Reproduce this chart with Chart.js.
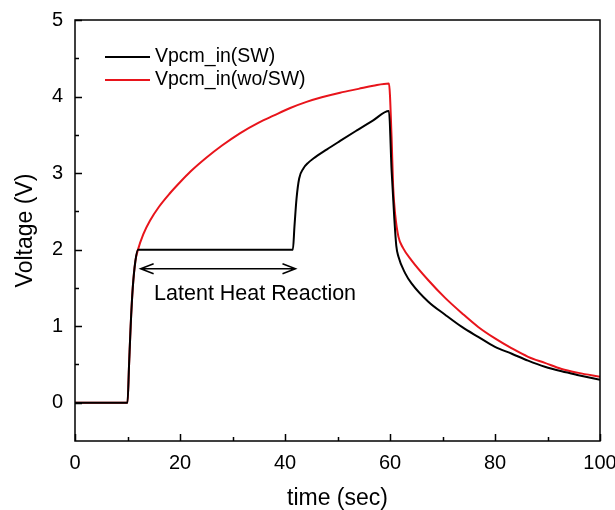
<!DOCTYPE html>
<html><head><meta charset="utf-8">
<script src="https://cdn.jsdelivr.net/npm/chart.js@4"></script>
<style>html,body{margin:0;padding:0;background:#fff}canvas{display:block}</style>
</head><body>
<canvas id="c" width="615" height="510"></canvas>
<script>
// ---- data ----
const timeWoSW = [0,10,10.3,10.6,11,11.5,12,13,14.3,16,18,20,22,25,28,31.4,35,37.8,41,44.1,47,50.5,54,56.8,59.8,60.3,60.6,61.0,61.6,62.5,64.1,67.3,70.5,73.7,76.8,80,83.2,86.3,89.5,92.7,95.9,100];
const voltWoSW = [0,0,0.5,1.0,1.5,1.85,2.0,2.2,2.38,2.56,2.73,2.88,3.02,3.2,3.36,3.52,3.66,3.75,3.85,3.93,3.99,4.05,4.10,4.14,4.17,3.47,2.82,2.45,2.17,2.02,1.86,1.60,1.37,1.17,0.99,0.84,0.71,0.60,0.52,0.44,0.39,0.34];
const timeSW = [0,10,10.3,10.6,11,11.5,12,41.5,41.8,42.2,42.7,43.5,44.5,45.4,48,50.5,53.5,56.8,59.8,60.3,60.8,61.2,61.6,62.9,64.1,67.3,70.5,73.7,76.8,80,83.2,86.3,89.5,92.7,95.9,100];
const voltSW = [0,0,0.5,1.0,1.5,1.85,2.0,2.0,2.3,2.67,2.93,3.06,3.14,3.19,3.31,3.42,3.55,3.69,3.81,3.04,2.43,2.05,1.91,1.69,1.56,1.32,1.15,0.99,0.86,0.73,0.64,0.55,0.47,0.41,0.36,0.30];
const seriesNames = ['Vpcm_in(SW)','Vpcm_in(wo/SW)'];
const xTicks = [0,20,40,60,80,100];
const xMinor = [10,30,50,70,90];
const yTicks = [0,1,2,3,4,5];
const yMinor = [0.5,1.5,2.5,3.5,4.5];
const annotText = 'Latent Heat Reaction';
const annotArrow = [12.5, 42, 1.75];
const annotTextPos = [34.3, 1.42];

const FONT = "'Liberation Sans', Arial, sans-serif";
const pts = (xs, ys) => xs.map((x,i)=>({x, y: ys[i]}));

const extras = {
  id: 'extras',
  afterDraw(chart) {
    const {ctx, chartArea: a, scales: {x, y}} = chart;
    ctx.save();
    ctx.strokeStyle = '#000'; ctx.lineWidth = 1.5;
    ctx.strokeRect(a.left, a.top, a.right - a.left, a.bottom - a.top);
    ctx.beginPath();
    xTicks.forEach(v => { const p = Math.round(x.getPixelForValue(v)) + 0.5; ctx.moveTo(p, a.bottom); ctx.lineTo(p, a.bottom - 7); });
    xMinor.forEach(v => { const p = Math.round(x.getPixelForValue(v)) + 0.5; ctx.moveTo(p, a.bottom); ctx.lineTo(p, a.bottom - 4); });
    yTicks.forEach(v => { const p = Math.round(y.getPixelForValue(v)) + 0.5; ctx.moveTo(a.left, p); ctx.lineTo(a.left + 7, p); });
    yMinor.forEach(v => { const p = Math.round(y.getPixelForValue(v)) + 0.5; ctx.moveTo(a.left, p); ctx.lineTo(a.left + 4, p); });
    ctx.stroke();
    // legend
    const colors = ['#000000', '#e8141b'];
    ctx.font = '19.5px ' + FONT; ctx.textBaseline = 'middle'; ctx.fillStyle = '#000';
    seriesNames.forEach((n, i) => {
      const yy = 57 + i * 23;
      ctx.strokeStyle = colors[i]; ctx.lineWidth = 2;
      ctx.beginPath(); ctx.moveTo(105, yy); ctx.lineTo(150, yy); ctx.stroke();
      ctx.fillText(n, 155, yy);
    });
    // annotation
    const x1 = x.getPixelForValue(annotArrow[0]), x2 = x.getPixelForValue(annotArrow[1]), ay = y.getPixelForValue(annotArrow[2]);
    ctx.strokeStyle = '#000'; ctx.lineWidth = 1.5;
    ctx.beginPath();
    ctx.moveTo(x1, ay); ctx.lineTo(x2, ay);
    ctx.moveTo(x1 + 13, ay - 5); ctx.lineTo(x1, ay); ctx.lineTo(x1 + 13, ay + 5);
    ctx.moveTo(x2 - 13, ay - 5); ctx.lineTo(x2, ay); ctx.lineTo(x2 - 13, ay + 5);
    ctx.stroke();
    ctx.textAlign = 'center';
    ctx.font = '21.5px ' + FONT;
    ctx.fillText(annotText, x.getPixelForValue(annotTextPos[0]), y.getPixelForValue(annotTextPos[1]));
    ctx.restore();
  }
};

new Chart(document.getElementById('c'), {
  type: 'line',
  data: {
    datasets: [
      { label: seriesNames[0], data: pts(timeSW, voltSW), borderColor: '#000000', borderWidth: 2, pointRadius: 0, cubicInterpolationMode: 'monotone', fill: false },
      { label: seriesNames[1], data: pts(timeWoSW, voltWoSW), borderColor: '#e8141b', borderWidth: 2, pointRadius: 0, cubicInterpolationMode: 'monotone', fill: false }
    ]
  },
  options: {
    responsive: false, animation: false,
    layout: { padding: { top: 20, right: 15, left: 8, bottom: 0 } },
    plugins: { legend: { display: false }, tooltip: { enabled: false } },
    scales: {
      x: {
        type: 'linear', min: 0, max: 100,
        afterBuildTicks: s => { s.ticks = xTicks.map(v => ({ value: v })); },
        afterFit: s => { s.height = 69; s.paddingRight = 0; s.paddingLeft = 0; },
        grid: { display: false, drawTicks: false },
        border: { display: false },
        ticks: { color: '#000', font: { family: FONT, size: 20 }, padding: 10, maxRotation: 0 },
        title: { display: true, text: 'time (sec)', color: '#000', font: { family: FONT, size: 23 }, padding: { top: 4, bottom: -2 } }
      },
      y: {
        type: 'linear', min: -0.5, max: 5,
        afterBuildTicks: s => { s.ticks = yTicks.map(v => ({ value: v })); },
        afterFit: s => { s.width = 67; s.paddingTop = 0; s.paddingBottom = 0; },
        grid: { display: false, drawTicks: false },
        border: { display: false },
        ticks: { color: '#000', font: { family: FONT, size: 20 }, padding: 12 },
        title: { display: true, text: 'Voltage (V)', color: '#000', font: { family: FONT, size: 23 }, padding: { bottom: 6 } }
      }
    }
  },
  plugins: [extras]
});
</script>
</body></html>
